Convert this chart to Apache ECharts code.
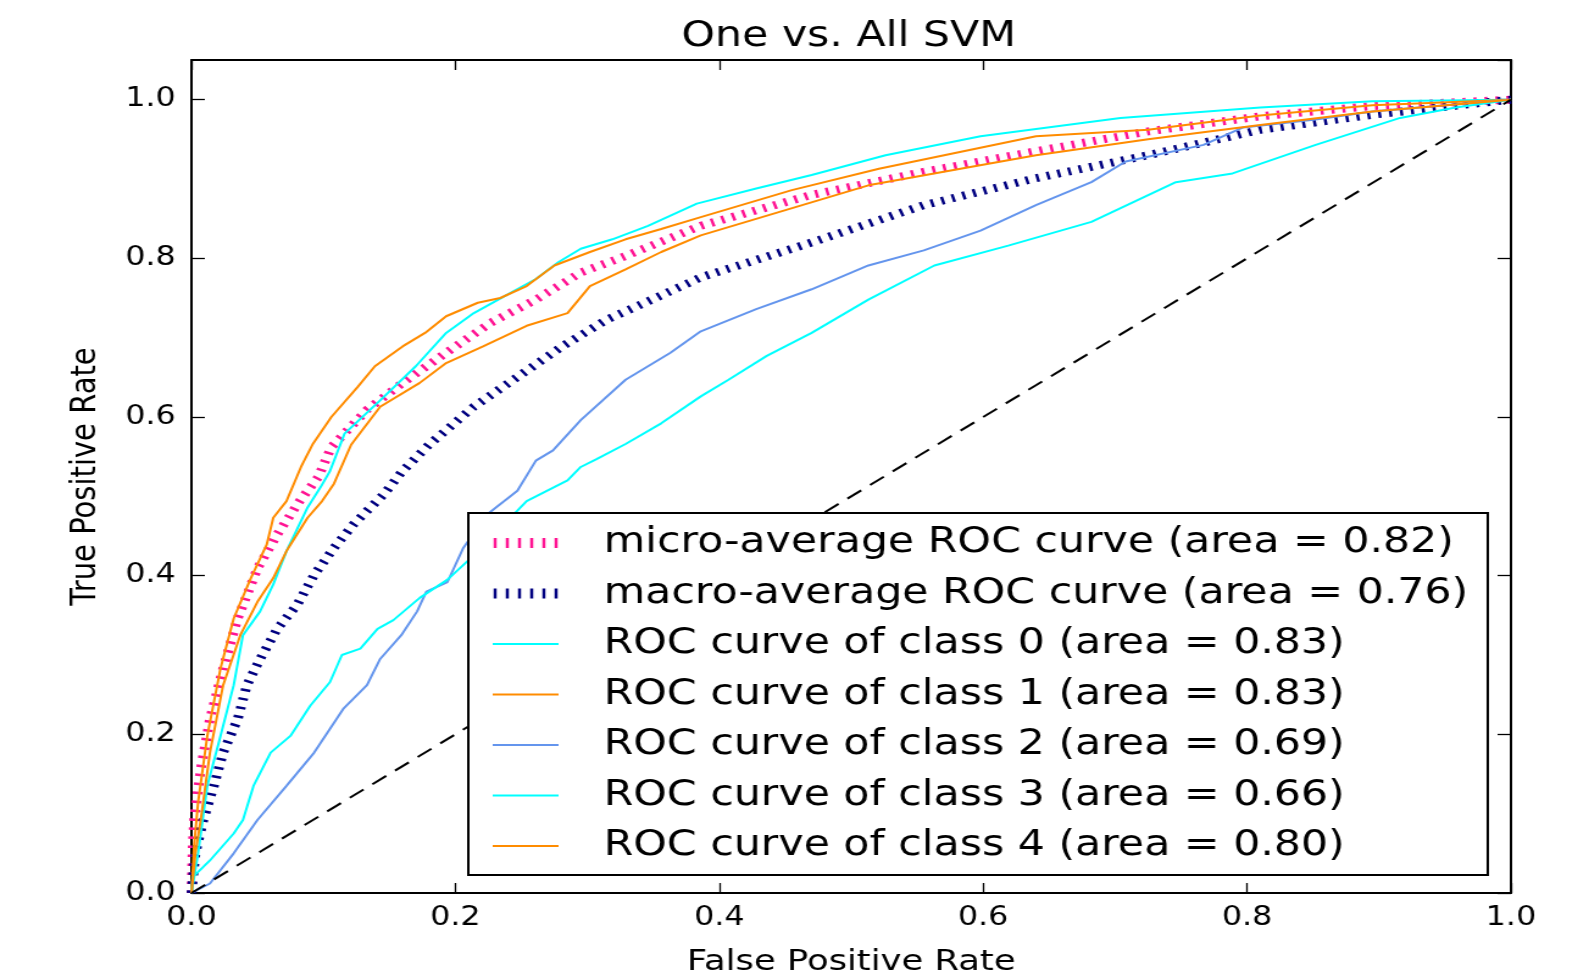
<!DOCTYPE html>
<html>
<head>
<meta charset="utf-8">
<title>One vs. All SVM</title>
<script src="https://cdn.jsdelivr.net/npm/echarts@6/dist/echarts.min.js"></script>
<style>
  html, body { margin: 0; padding: 0; background: #fff; overflow: hidden; }
  /* the reference figure is stretched sideways, so draw narrow and widen */
  #chartmain { width: 1294px; height: 977px; transform: scaleX(1.2195); transform-origin: 0 0; }
</style>
</head>
<body>
<div id="chartmain"></div>
<script>
// [false positive rate, true positive rate]
var microAvg = [[0,0],[0.001,0.06],[0.002,0.092],[0.007,0.156],[0.014,0.219],[0.024,0.283],[0.035,0.346],
  [0.050,0.409],[0.065,0.452],[0.082,0.494],[0.096,0.524],[0.106,0.562],[0.133,0.609],[0.160,0.643],
  [0.193,0.681],[0.227,0.719],[0.261,0.748],[0.295,0.782],[0.329,0.803],[0.386,0.841],[0.470,0.880],
  [0.555,0.909],[0.640,0.935],[0.725,0.960],[0.810,0.979],[0.895,0.992],[1,1]];
var macroAvg = [[0,0],[0.003,0.05],[0.009,0.092],[0.017,0.135],[0.024,0.177],[0.035,0.219],[0.042,0.262],
  [0.052,0.295],[0.065,0.333],[0.080,0.363],[0.093,0.401],[0.108,0.435],[0.123,0.465],[0.146,0.503],
  [0.160,0.532],[0.180,0.565],[0.214,0.613],[0.244,0.647],[0.281,0.689],[0.315,0.723],[0.349,0.748],
  [0.386,0.776],[0.470,0.820],[0.555,0.867],[0.640,0.901],[0.725,0.930],[0.810,0.962],[0.895,0.981],[1,1]];
var class0 = [[0,0],[0.005,0.05],[0.012,0.135],[0.022,0.198],[0.032,0.262],[0.039,0.325],[0.052,0.355],
  [0.062,0.389],[0.072,0.431],[0.088,0.486],[0.098,0.512],[0.105,0.532],[0.116,0.579],[0.143,0.621],
  [0.170,0.664],[0.193,0.706],[0.214,0.731],[0.237,0.752],[0.261,0.774],[0.278,0.795],[0.295,0.812],
  [0.319,0.824],[0.346,0.841],[0.383,0.869],[0.428,0.888],[0.470,0.905],[0.526,0.930],[0.598,0.954],
  [0.704,0.977],[0.810,0.990],[0.895,0.998],[1,1]];
var class1 = [[0,0],[0.002,0.06],[0.005,0.114],[0.012,0.198],[0.022,0.283],[0.032,0.346],[0.045,0.397],
  [0.057,0.439],[0.062,0.473],[0.072,0.494],[0.083,0.537],[0.092,0.566],[0.106,0.600],[0.126,0.638],
  [0.139,0.664],[0.160,0.689],[0.177,0.706],[0.193,0.727],[0.217,0.744],[0.234,0.750],[0.254,0.765],
  [0.275,0.791],[0.302,0.808],[0.329,0.824],[0.356,0.837],[0.386,0.852],[0.455,0.886],[0.521,0.913],
  [0.640,0.954],[0.725,0.962],[0.810,0.980],[0.895,0.993],[1,1]];
var class2 = [[0,0],[0.014,0.012],[0.032,0.050],[0.050,0.092],[0.072,0.135],[0.093,0.177],[0.115,0.232],
  [0.133,0.262],[0.143,0.295],[0.159,0.325],[0.171,0.355],[0.178,0.380],[0.194,0.392],[0.206,0.435],
  [0.224,0.477],[0.247,0.507],[0.261,0.545],[0.274,0.558],[0.295,0.596],[0.329,0.647],[0.363,0.681],
  [0.386,0.708],[0.428,0.736],[0.470,0.761],[0.513,0.791],[0.555,0.810],[0.598,0.835],[0.640,0.867],
  [0.682,0.896],[0.708,0.922],[0.767,0.943],[0.797,0.965],[0.852,0.975],[0.895,0.985],[1,1]];
var class3 = [[0,0],[0.001,0.02],[0.014,0.041],[0.032,0.075],[0.039,0.092],[0.047,0.135],[0.060,0.177],
  [0.075,0.198],[0.090,0.236],[0.105,0.266],[0.114,0.300],[0.128,0.308],[0.141,0.333],[0.153,0.344],
  [0.173,0.372],[0.194,0.395],[0.209,0.418],[0.228,0.450],[0.247,0.482],[0.254,0.494],[0.285,0.520],
  [0.295,0.537],[0.307,0.547],[0.329,0.566],[0.356,0.592],[0.386,0.626],[0.407,0.647],[0.436,0.677],
  [0.470,0.706],[0.513,0.748],[0.563,0.791],[0.619,0.816],[0.682,0.846],[0.746,0.896],[0.789,0.907],
  [0.852,0.943],[0.916,0.977],[0.958,0.990],[1,1]];
var class4 = [[0,0],[0.003,0.05],[0.007,0.092],[0.014,0.177],[0.024,0.262],[0.037,0.325],[0.050,0.367],
  [0.062,0.397],[0.072,0.431],[0.088,0.473],[0.099,0.494],[0.108,0.516],[0.121,0.565],[0.143,0.613],
  [0.173,0.643],[0.193,0.668],[0.221,0.689],[0.254,0.715],[0.285,0.731],[0.302,0.765],[0.329,0.786],
  [0.356,0.808],[0.386,0.829],[0.513,0.892],[0.640,0.930],[0.725,0.950],[0.810,0.968],[0.895,0.985],[1,1]];
var chance = [[0,0],[1,1]];

var seriesNames = ['micro-average ROC curve (area = 0.82)', 'macro-average ROC curve (area = 0.76)',
  'ROC curve of class 0 (area = 0.83)', 'ROC curve of class 1 (area = 0.83)',
  'ROC curve of class 2 (area = 0.69)', 'ROC curve of class 3 (area = 0.66)',
  'ROC curve of class 4 (area = 0.80)'];

var font = 'DejaVu Sans';
// legend keys: six short ticks for the dotted curves, a thin bar for the solid ones
var dottedKey = 'path://M0,0h2.5v10h-2.5z m10,0h2.5v10h-2.5z m10,0h2.5v10h-2.5z m10,0h2.5v10h-2.5z m10,0h2.5v10h-2.5z m10,0h2.5v10h-2.5z';
var solidKey = 'path://M0,0h54v2h-54z';

function curve(name, data, color, width, type) {
	return {
		name : name,
		type : 'line',
		data : data,
		symbol : 'none',
		silent : true,
		lineStyle : { color : color, width : width, type : type },
		itemStyle : { color : color }
	};
}

function frameAxis(pos, isX, show) {
	return {
		type : 'value',
		position : pos,
		min : 0,
		max : isX ? 1 : 1.05,
		interval : 0.2,
		axisLine : { show : true, onZero : false, lineStyle : { color : '#000', width : 2 } },
		axisTick : { show : true, inside : true, length : isX ? 10 : 11, lineStyle : { color : '#000', width : 1.3 } },
		splitLine : { show : false },
		axisLabel : {
			show : show,
			showMaxLabel : isX,
			margin : isX ? 12 : 13,
			color : '#000',
			fontFamily : font,
			fontSize : 26,
			formatter : function(v) { return v.toFixed(1); }
		}
	};
}

var xBottom = frameAxis('bottom', true, true);
xBottom.name = 'False Positive Rate';
xBottom.nameLocation = 'middle';
xBottom.nameGap = 55;
xBottom.nameTextStyle = { color : '#000', fontFamily : font, fontSize : 29 };
var yLeft = frameAxis('left', false, true);
yLeft.name = 'True Positive Rate';
yLeft.nameLocation = 'middle';
yLeft.nameGap = 72;
yLeft.nameTextStyle = { color : '#000', fontFamily : font, fontSize : 29 };

var legendData = [];
for (var i = 0; i < seriesNames.length; i++) {
	legendData.push({ name : seriesNames[i], icon : i < 2 ? dottedKey : solidKey });
}

var option = {
	animation : false,
	backgroundColor : '#fff',
	title : {
		text : 'One vs. All SVM',
		left : 691,
		textAlign : 'center',
		top : 14,
		textStyle : { color : '#000', fontFamily : font, fontSize : 35, fontWeight : 'normal' }
	},
	// fixed plot box, do not let the labels push it around
	grid : { left : 157, right : 55, top : 60, bottom : 84, outerBoundsMode : 'none', containLabel : false },
	legend : {
		orient : 'vertical',
		left : 384,
		top : 513,
		data : legendData,
		padding : [12, 16, 11, 20],
		itemWidth : 54,
		itemHeight : 10,
		itemGap : 14.5,
		symbolKeepAspect : true,
		backgroundColor : '#fff',
		borderColor : '#000',
		borderWidth : 2,
		selectedMode : false,
		textStyle : { color : '#000', fontFamily : font, fontSize : 35, lineHeight : 36, padding : [0, 0, 0, 32] }
	},
	xAxis : [ xBottom, frameAxis('top', true, false) ],
	yAxis : [ yLeft, frameAxis('right', false, false) ],
	series : [
		curve(seriesNames[0], microAvg, '#ff1493', 8, [2.5, 6.5]),
		curve(seriesNames[1], macroAvg, '#000080', 8, [2.5, 6.5]),
		curve(seriesNames[2], class0, '#00ffff', 2, 'solid'),
		curve(seriesNames[3], class1, '#ff8c00', 2, 'solid'),
		curve(seriesNames[4], class2, '#6495ed', 2, 'solid'),
		curve(seriesNames[5], class3, '#00ffff', 2, 'solid'),
		curve(seriesNames[6], class4, '#ff8c00', 2, 'solid'),
		curve('', chance, '#000', 2, [14, 9])
	]
};

var myChart = echarts.init(document.getElementById('chartmain'));
myChart.setOption(option);
</script>
</body>
</html>
